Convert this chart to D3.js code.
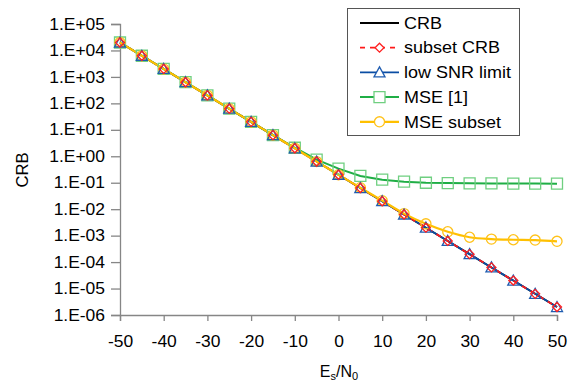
<!DOCTYPE html>
<html>
<head>
<meta charset="utf-8">
<script src="https://cdn.jsdelivr.net/npm/d3@7"></script>
<style>
	body { margin: 0; background: #fff; }
	text { font-family: 'Liberation Sans', Arial, sans-serif; fill: #000; }
</style>
</head>
<body>
<div id="chart"></div>
<script>
// E_s/N_0 in dB
const snr = [-50, -45, -40, -35, -30, -25, -20, -15, -10, -5, 0, 5, 10, 15, 20, 25, 30, 35, 40, 45, 50];

const crb = [2e4, 6.3e3, 2e3, 6.3e2, 2e2, 63, 20, 6.3, 2, 0.63, 0.2, 0.063, 0.02, 6.3e-3, 2e-3, 6.3e-4, 2e-4, 6.3e-5, 2e-5, 6.3e-6, 2e-6];
const subsetCrb = [2e4, 6.3e3, 2e3, 6.3e2, 2e2, 63, 20, 6.3, 2, 0.63, 0.2, 0.063, 0.02, 6.3e-3, 2e-3, 6.3e-4, 2e-4, 6.3e-5, 2e-5, 6.3e-6, 2e-6];
const lowSnrLimit = [2e4, 6.3e3, 2e3, 6.3e2, 2e2, 63, 20, 6.3, 2, 0.63, 0.2, 0.063, 0.02, 6.3e-3, 2e-3, 6.3e-4, 2e-4, 6.3e-5, 2e-5, 6.3e-6, 2e-6];
const mseRef = [2e4, 6.3e3, 2e3, 6.3e2, 2e2, 63, 20, 6.3, 2.1, 0.75, 0.34, 0.18, 0.13, 0.11, 0.1, 0.097, 0.095, 0.094, 0.093, 0.093, 0.092];
const mseSubset = [2e4, 6.3e3, 2e3, 6.3e2, 2e2, 63, 20, 6.3, 2, 0.63, 0.2, 0.065, 0.021, 6.8e-3, 2.8e-3, 1.4e-3, 8.7e-4, 7.4e-4, 7e-4, 6.8e-4, 6.1e-4];

const xTicks = [-50, -40, -30, -20, -10, 0, 10, 20, 30, 40, 50];
const yTicks = [1e-6, 1e-5, 1e-4, 1e-3, 1e-2, 1e-1, 1, 1e1, 1e2, 1e3, 1e4, 1e5];
const yTickLabels = ['1.E-06', '1.E-05', '1.E-04', '1.E-03', '1.E-02', '1.E-01', '1.E+00', '1.E+01', '1.E+02', '1.E+03', '1.E+04', '1.E+05'];

const seriesNames = ['CRB', 'subset CRB', 'low SNR limit', 'MSE [1]', 'MSE subset'];

const width = 569;
const height = 381;
const axisColor = '#868686';
const fontFamily = "'Liberation Sans', Arial, sans-serif";

// the reference text is a little wider than Arial, widen it
const stretch = (sel, k) => {
	sel.each(function () {
		const w = this.getComputedTextLength();
		d3.select(this).attr('textLength', w * k).attr('lengthAdjust', 'spacingAndGlyphs');
	});
};

const svg = d3
	.select('#chart')
	.append('svg')
	.attr('width', width)
	.attr('height', height);

const xScale = d3.scaleLinear().domain([-50, 50]).range([120, 557]);
const yScale = d3.scaleLog().domain([1e-6, 1e5]).range([315, 24]);

// axes
const xAxis = d3
	.axisBottom(xScale)
	.tickValues(xTicks)
	.tickSize(6)
	.tickPadding(15)
	.tickFormat((d) => String(d));
const yAxis = d3
	.axisLeft(yScale)
	.tickValues(yTicks)
	.tickSize(9)
	.tickPadding(6)
	.tickFormat((d, i) => yTickLabels[i]);

const gx = svg.append('g').attr('transform', 'translate(0,315)').call(xAxis);
const gy = svg.append('g').attr('transform', 'translate(120,0)').call(yAxis);

[gx, gy].forEach((g) => {
	g.select('.domain').attr('stroke', axisColor).attr('stroke-width', 1.3);
	g.selectAll('.tick line').attr('stroke', axisColor).attr('stroke-width', 1.3);
	g.selectAll('.tick text')
		.attr('font-size', 16)
		.attr('fill', '#000')
		.attr('font-family', fontFamily)
		.call(stretch, 1.09);
});

// axis titles
svg
	.append('text')
	.attr('transform', 'translate(22,170) rotate(-90)')
	.attr('text-anchor', 'middle')
	.attr('dy', '0.35em')
	.attr('font-size', 16)
	.text('CRB')
	.call(stretch, 1.04);

const xTitle = svg.append('text').attr('x', 339).attr('y', 377).attr('text-anchor', 'middle').attr('font-size', 16);
xTitle.append('tspan').text('E');
xTitle.append('tspan').attr('font-size', 11).attr('dy', 3).text('s');
xTitle.append('tspan').attr('dy', -3).text('/N');
xTitle.append('tspan').attr('font-size', 11).attr('dy', 3).text('0');

// series
const styles = [
	{ data: crb, color: '#000000', width: 1.8, dash: null, marker: null },
	{ data: subsetCrb, color: '#ff1a1a', width: 1.8, dash: '5,5', marker: 'diamond', mColor: '#ff2020' },
	{ data: lowSnrLimit, color: '#0a4da3', width: 1.8, dash: null, marker: 'triangle', mColor: '#1f5cb0' },
	{ data: mseRef, color: '#1fae45', width: 2, dash: null, marker: 'square', mColor: '#6fcf80' },
	{ data: mseSubset, color: '#ffc000', width: 2.2, dash: null, marker: 'circle', mColor: '#ffc21a' }
];

const lineDrawOrder = [0, 2, 1, 3, 4];

lineDrawOrder.forEach((i) => {
	const s = styles[i];
	const line = d3
		.line()
		.x((d, j) => xScale(snr[j]))
		.y((d) => yScale(d))
		.curve(i === 4 ? d3.curveCatmullRom.alpha(0.5) : d3.curveLinear);

	svg
		.append('path')
		.datum(s.data)
		.attr('fill', 'none')
		.attr('stroke', s.color)
		.attr('stroke-width', s.width)
		.attr('stroke-dasharray', s.dash)
		.attr('d', line);
});

const markerPath = (type) => {
	switch (type) {
		case 'square':
			return 'M-5.5,-5.5H5.5V5.5H-5.5Z';
		case 'circle':
			return d3.symbol(d3.symbolCircle, 80)();
		case 'triangle':
			return 'M0,-5.5L5.5,4.5H-5.5Z';
		case 'diamond':
			return 'M0,-4.5L4.5,0L0,4.5L-4.5,0Z';
	}
	return null;
};

const markerDrawOrder = [3, 4, 2, 1];

markerDrawOrder.forEach((i) => {
	const s = styles[i];
	svg
		.append('g')
		.selectAll('path')
		.data(s.data)
		.enter()
		.append('path')
		.attr('transform', (d, j) => `translate(${xScale(snr[j])},${yScale(d)})`)
		.attr('d', markerPath(s.marker))
		.attr('fill', 'none')
		.attr('stroke', s.mColor)
		.attr('stroke-width', 1.3);
});

// legend
const legend = svg.append('g');
legend
	.append('rect')
	.attr('x', 347.5)
	.attr('y', 8.5)
	.attr('width', 172)
	.attr('height', 127)
	.attr('fill', '#fff')
	.attr('stroke', '#555')
	.attr('stroke-width', 1);

seriesNames.forEach((name, i) => {
	const s = styles[i];
	const y = 23 + i * 24.7;
	legend
		.append('line')
		.attr('x1', 360)
		.attr('x2', 399)
		.attr('y1', y)
		.attr('y2', y)
		.attr('stroke', s.color)
		.attr('stroke-width', s.width)
		.attr('stroke-dasharray', s.dash);
	if (s.marker) {
		legend
			.append('path')
			.attr('transform', `translate(379.5,${y})`)
			.attr('d', markerPath(s.marker))
			.attr('fill', '#fff')
			.attr('stroke', s.mColor)
			.attr('stroke-width', 1.3);
	}
	legend
		.append('text')
		.attr('x', 404)
		.attr('y', y)
		.attr('dy', '0.35em')
		.attr('font-size', 16.5)
		.text(name)
		.call(stretch, 1.09);
});
</script>
</body>
</html>
